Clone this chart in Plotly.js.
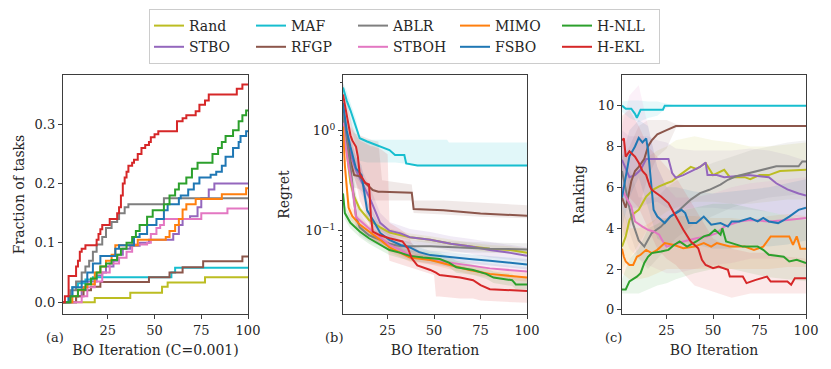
<!DOCTYPE html>
<html>
<head>
<meta charset="utf-8">
<script src="https://cdn.plot.ly/plotly-3.0.1.min.js"></script>
<style>
  html, body { margin: 0; padding: 0; background: #fff; }
  #chart { width: 831px; height: 369px; }
</style>
</head>
<body>
<div id="chart"></div>
<script>
// methods, in plotting order (legend columns pair them up)
const methods = ['Rand', 'STBO', 'MAF', 'RFGP', 'ABLR', 'STBOH', 'MIMO', 'FSBO', 'H-NLL', 'H-EKL'];
const colors = ['#bcbd22', '#9467bd', '#17becf', '#8c564b', '#7f7f7f', '#e377c2', '#ff7f0e', '#1f77b4', '#2ca02c', '#d62728'];
const legendCols = ['c1', 'c1', 'c2', 'c2', 'c3', 'c3', 'c4', 'c4', 'c5', 'c5'];

// (a) fraction of tasks solved, step curves
const fracX = {
  'Rand': [1, 18, 37, 54, 57, 77, 100],
  'STBO': [1, 8, 11, 14, 19, 22, 24, 28, 30, 33, 37, 42, 47, 60, 63, 65, 69, 73, 75, 79, 82, 100],
  'MAF': [1, 4, 6, 9, 13, 17, 59, 61, 100],
  'RFGP': [1, 8, 12, 16, 21, 47, 58, 65, 76, 97, 100],
  'ABLR': [1, 5, 8, 11, 13, 15, 17, 19, 22, 24, 27, 30, 31, 34, 36, 55, 100],
  'STBOH': [1, 11, 14, 18, 22, 26, 31, 35, 38, 46, 48, 51, 53, 55, 75, 89, 100],
  'MIMO': [1, 6, 9, 12, 14, 18, 21, 24, 27, 29, 41, 56, 58, 61, 63, 65, 67, 72, 86, 99, 100],
  'FSBO': [1, 4, 6, 11, 14, 17, 21, 29, 31, 39, 42, 46, 51, 55, 57, 63, 64, 68, 71, 74, 80, 83, 86, 88, 92, 95, 96, 99, 100],
  'H-NLL': [1, 5, 9, 13, 16, 19, 21, 24, 27, 30, 32, 35, 38, 40, 42, 46, 49, 55, 58, 61, 63, 67, 70, 73, 81, 84, 86, 88, 92, 95, 97, 99, 100],
  'H-EKL': [1, 2, 4, 8, 9, 10, 11, 13, 19, 20, 21, 22, 26, 30, 31, 32, 33, 34, 35, 36, 38, 39, 41, 43, 45, 47, 48, 50, 52, 62, 65, 67, 72, 74, 77, 79, 94, 97, 100]
};
const fracY = {
  'Rand': [0, 0.007, 0.016, 0.026, 0.033, 0.042, 0.042],
  'STBO': [0, 0.01, 0.025, 0.035, 0.045, 0.05, 0.06, 0.07, 0.08, 0.09, 0.095, 0.1, 0.105, 0.115, 0.13, 0.14, 0.145, 0.16, 0.175, 0.19, 0.2, 0.2],
  'MAF': [0, 0.01, 0.025, 0.032, 0.038, 0.042, 0.05, 0.058, 0.058],
  'RFGP': [0, 0.01, 0.02, 0.026, 0.034, 0.042, 0.05, 0.059, 0.069, 0.077, 0.077],
  'ABLR': [0, 0.02, 0.035, 0.05, 0.06, 0.07, 0.085, 0.097, 0.11, 0.125, 0.135, 0.14, 0.15, 0.16, 0.165, 0.175, 0.175],
  'STBOH': [0, 0.01, 0.025, 0.035, 0.05, 0.065, 0.075, 0.085, 0.097, 0.1, 0.115, 0.125, 0.13, 0.14, 0.15, 0.158, 0.158],
  'MIMO': [0, 0.01, 0.02, 0.025, 0.03, 0.05, 0.06, 0.07, 0.08, 0.096, 0.105, 0.11, 0.12, 0.13, 0.14, 0.156, 0.165, 0.174, 0.182, 0.192, 0.192],
  'FSBO': [0, 0.01, 0.025, 0.035, 0.05, 0.065, 0.078, 0.09, 0.096, 0.11, 0.115, 0.13, 0.14, 0.155, 0.165, 0.175, 0.18, 0.19, 0.2, 0.21, 0.215, 0.22, 0.23, 0.245, 0.26, 0.27, 0.28, 0.288, 0.288],
  'H-NLL': [0, 0.01, 0.021, 0.03, 0.04, 0.05, 0.06, 0.065, 0.071, 0.08, 0.09, 0.1, 0.11, 0.12, 0.13, 0.144, 0.155, 0.165, 0.18, 0.19, 0.2, 0.21, 0.225, 0.235, 0.25, 0.26, 0.27, 0.28, 0.29, 0.305, 0.315, 0.323, 0.323],
  'H-EKL': [0, 0.01, 0.044, 0.06, 0.07, 0.085, 0.09, 0.096, 0.105, 0.115, 0.123, 0.13, 0.14, 0.15, 0.16, 0.18, 0.2, 0.21, 0.22, 0.23, 0.235, 0.24, 0.25, 0.26, 0.265, 0.27, 0.278, 0.283, 0.288, 0.305, 0.31, 0.315, 0.322, 0.333, 0.34, 0.35, 0.36, 0.367, 0.367]
};

// (b) regret, mean with lower / upper band
const regX = {
  'Rand': [1, 3, 5, 7, 10, 15, 21, 26, 37, 48, 59, 69, 80, 91, 100],
  'STBO': [1, 3, 5, 8, 12, 16, 21, 26, 32, 37, 48, 59, 69, 80, 91, 100],
  'MAF': [1, 3, 5, 8, 10, 14, 21, 26, 29, 34, 35, 41, 57, 58, 100],
  'RFGP': [1, 3, 5, 7, 10, 13, 17, 20, 22, 38, 39, 55, 75, 100],
  'ABLR': [1, 3, 5, 7, 8, 10, 15, 21, 26, 32, 48, 80, 100],
  'STBOH': [1, 2, 4, 6, 8, 15, 21, 26, 32, 37, 48, 59, 69, 80, 91, 100],
  'MIMO': [1, 2, 4, 6, 10, 16, 21, 26, 32, 37, 48, 59, 69, 80, 91, 100],
  'FSBO': [1, 3, 5, 8, 11, 14, 18, 21, 26, 32, 37, 42, 48, 59, 69, 80, 91, 100],
  'H-NLL': [1, 2, 5, 10, 15, 21, 26, 32, 37, 44, 53, 58, 62, 71, 78, 82, 92, 94, 100],
  'H-EKL': [1, 3, 5, 6, 8, 9, 10, 13, 15, 16, 17, 21, 25, 26, 33, 36, 38, 41, 48, 50, 51, 53, 64, 71, 75, 80, 100]
};
const regY = {
  'Rand': [1.3, 0.6, 0.3, 0.22, 0.165, 0.128, 0.108, 0.096, 0.086, 0.081, 0.074, 0.07, 0.066, 0.064, 0.06],
  'STBO': [1.4, 0.9, 0.59, 0.4, 0.28, 0.2, 0.12, 0.1, 0.094, 0.086, 0.081, 0.074, 0.07, 0.064, 0.06, 0.056],
  'MAF': [2.7, 2.0, 1.6, 1.1, 0.84, 0.78, 0.69, 0.64, 0.57, 0.57, 0.47, 0.45, 0.45, 0.45, 0.45],
  'RFGP': [1.6, 0.9, 0.5, 0.36, 0.35, 0.3, 0.255, 0.245, 0.245, 0.24, 0.165, 0.16, 0.149, 0.141],
  'ABLR': [1.5, 0.8, 0.44, 0.2, 0.14, 0.108, 0.09, 0.081, 0.074, 0.07, 0.07, 0.066, 0.065],
  'STBOH': [1.2, 0.8, 0.44, 0.28, 0.137, 0.105, 0.086, 0.072, 0.064, 0.057, 0.051, 0.048, 0.045, 0.042, 0.0405, 0.039],
  'MIMO': [1.1, 0.45, 0.17, 0.14, 0.115, 0.096, 0.081, 0.068, 0.06, 0.054, 0.051, 0.045, 0.0405, 0.037, 0.035, 0.034],
  'FSBO': [1.9, 1.0, 0.69, 0.42, 0.36, 0.16, 0.12, 0.095, 0.081, 0.072, 0.068, 0.061, 0.057, 0.054, 0.052, 0.05, 0.048, 0.046],
  'H-NLL': [0.236, 0.15, 0.12, 0.098, 0.084, 0.072, 0.064, 0.06, 0.056, 0.054, 0.052, 0.048, 0.043, 0.0405, 0.037, 0.034, 0.032, 0.029, 0.029],
  'H-EKL': [2.3, 1.38, 0.9, 0.8, 0.69, 0.55, 0.37, 0.3, 0.29, 0.14, 0.098, 0.09, 0.085, 0.084, 0.078, 0.066, 0.053, 0.045, 0.0405, 0.039, 0.038, 0.036, 0.034, 0.032, 0.0286, 0.026, 0.025]
};
const regLo = {
  'Rand': [1.0, 0.5, 0.26, 0.19, 0.15, 0.118, 0.1, 0.089, 0.08, 0.075, 0.069, 0.065, 0.061, 0.059, 0.056],
  'STBO': [1.1, 0.7, 0.45, 0.3, 0.21, 0.15, 0.1, 0.085, 0.08, 0.074, 0.069, 0.063, 0.059, 0.054, 0.051, 0.049],
  'MAF': [2.3, 1.6, 1.2, 0.7, 0.5, 0.48, 0.48, 0.48, 0.48, 0.47, 0.46, 0.44, 0.44, 0.44, 0.44],
  'RFGP': [1.2, 0.6, 0.35, 0.27, 0.26, 0.23, 0.2, 0.2, 0.2, 0.2, 0.15, 0.145, 0.138, 0.133],
  'ABLR': [1.2, 0.6, 0.3, 0.15, 0.11, 0.09, 0.078, 0.07, 0.064, 0.061, 0.061, 0.06, 0.06],
  'STBOH': [1.0, 0.6, 0.33, 0.2, 0.11, 0.09, 0.075, 0.064, 0.057, 0.051, 0.046, 0.043, 0.041, 0.038, 0.037, 0.035],
  'MIMO': [0.9, 0.35, 0.14, 0.12, 0.1, 0.085, 0.072, 0.061, 0.054, 0.049, 0.046, 0.041, 0.037, 0.034, 0.032, 0.031],
  'FSBO': [1.5, 0.8, 0.55, 0.34, 0.29, 0.13, 0.1, 0.083, 0.072, 0.064, 0.061, 0.055, 0.051, 0.049, 0.047, 0.045, 0.043, 0.041],
  'H-NLL': [0.2, 0.13, 0.105, 0.086, 0.074, 0.064, 0.057, 0.053, 0.05, 0.048, 0.046, 0.043, 0.038, 0.036, 0.033, 0.03, 0.028, 0.026, 0.026],
  'H-EKL': [1.6, 0.9, 0.5, 0.4, 0.3, 0.25, 0.2, 0.15, 0.12, 0.09, 0.08, 0.075, 0.07, 0.05, 0.045, 0.043, 0.042, 0.04, 0.037, 0.036, 0.022, 0.022, 0.021, 0.021, 0.02, 0.02, 0.019]
};
const regHi = {
  'Rand': [1.6, 0.75, 0.36, 0.26, 0.18, 0.14, 0.118, 0.105, 0.094, 0.088, 0.081, 0.076, 0.072, 0.07, 0.066],
  'STBO': [1.8, 1.2, 0.8, 0.55, 0.38, 0.26, 0.15, 0.122, 0.112, 0.104, 0.097, 0.088, 0.083, 0.077, 0.072, 0.068],
  'MAF': [3.0, 2.5, 1.9, 1.3, 0.85, 0.81, 0.81, 0.81, 0.81, 0.81, 0.81, 0.81, 0.81, 0.76, 0.76],
  'RFGP': [2.2, 1.4, 1.1, 0.95, 0.9, 0.85, 0.8, 0.78, 0.32, 0.29, 0.2, 0.2, 0.19, 0.18],
  'ABLR': [1.9, 1.1, 0.7, 0.35, 0.22, 0.15, 0.11, 0.095, 0.085, 0.08, 0.08, 0.076, 0.075],
  'STBOH': [1.5, 1.0, 0.6, 0.4, 0.18, 0.125, 0.1, 0.082, 0.072, 0.064, 0.057, 0.053, 0.05, 0.047, 0.045, 0.043],
  'MIMO': [1.4, 0.6, 0.21, 0.17, 0.135, 0.11, 0.092, 0.077, 0.067, 0.06, 0.056, 0.05, 0.045, 0.041, 0.039, 0.038],
  'FSBO': [2.4, 1.3, 0.9, 0.55, 0.45, 0.2, 0.145, 0.11, 0.092, 0.081, 0.076, 0.068, 0.063, 0.06, 0.058, 0.056, 0.054, 0.052],
  'H-NLL': [0.28, 0.18, 0.14, 0.112, 0.096, 0.082, 0.073, 0.068, 0.064, 0.062, 0.06, 0.055, 0.05, 0.046, 0.042, 0.039, 0.037, 0.034, 0.034],
  'H-EKL': [3.0, 2.0, 1.3, 1.1, 0.9, 0.85, 0.8, 0.75, 0.72, 0.7, 0.7, 0.66, 0.58, 0.12, 0.1, 0.09, 0.075, 0.065, 0.055, 0.054, 0.053, 0.05, 0.045, 0.042, 0.04, 0.037, 0.035]
};

// (c) average ranking, mean line plus band on a coarse grid
const rankX = {
  'Rand': [1, 3, 5, 7, 10, 12, 14, 18, 21, 25, 28, 32, 35, 38, 41, 43, 46, 50, 56, 59, 67, 70, 75, 80, 86, 100],
  'STBO': [1, 3, 5, 8, 11, 14, 26, 28, 30, 34, 40, 43, 46, 47, 52, 56, 69, 75, 80, 84, 87, 90, 96, 100],
  'MAF': [1, 3, 6, 8, 9, 10, 11, 23, 24, 100],
  'RFGP': [1, 3, 4, 6, 8, 10, 13, 15, 17, 20, 25, 30, 100],
  'ABLR': [1, 3, 5, 7, 10, 13, 17, 22, 27, 32, 38, 43, 48, 54, 58, 62, 76, 84, 96, 98, 100],
  'STBOH': [1, 2, 6, 8, 12, 15, 18, 21, 23, 25, 34, 41, 47, 52, 56, 64, 70, 80, 90, 100],
  'MIMO': [1, 2, 3, 5, 7, 9, 11, 14, 17, 20, 24, 29, 34, 40, 45, 49, 52, 59, 67, 72, 77, 81, 91, 93, 95, 97, 100],
  'FSBO': [1, 3, 5, 8, 10, 12, 14, 15, 16, 17, 18, 20, 24, 27, 30, 33, 35, 37, 41, 45, 49, 54, 58, 60, 64, 70, 74, 77, 80, 85, 88, 91, 96, 100],
  'H-NLL': [1, 3, 5, 9, 11, 13, 15, 17, 22, 26, 29, 32, 36, 41, 45, 48, 51, 54, 55, 57, 60, 66, 74, 77, 80, 88, 91, 95, 100],
  'H-EKL': [1, 2, 3, 5, 8, 10, 12, 14, 16, 17, 22, 26, 28, 30, 34, 38, 42, 44, 46, 50, 53, 58, 59, 66, 68, 73, 79, 81, 90, 92, 94, 100]
};
const rankY = {
  'Rand': [3.1, 3.6, 4.4, 4.7, 4.9, 5.2, 5.55, 5.9, 6.05, 6.2, 6.3, 6.6, 6.8, 7.0, 6.9, 7.0, 7.19, 6.6, 6.86, 6.5, 6.5, 6.4, 6.6, 6.6, 6.8, 6.86],
  'STBO': [7.35, 6.9, 6.5, 6.6, 6.86, 7.39, 7.39, 6.7, 6.47, 6.6, 6.86, 7.0, 7.22, 6.6, 6.6, 6.5, 6.6, 6.55, 6.5, 6.2, 6.05, 5.9, 5.7, 5.6],
  'MAF': [10, 9.85, 9.85, 9.6, 9.4, 9.6, 9.8, 9.8, 10, 10],
  'RFGP': [5.5, 5.0, 5.4, 6.3, 6.8, 7.0, 7.4, 8.0, 8.3, 8.6, 8.8, 9.0, 9.0],
  'ABLR': [6.8, 5.8, 5.0, 4.2, 3.4, 3.1, 3.76, 4.08, 4.57, 4.9, 5.4, 5.72, 5.88, 6.13, 6.37, 6.53, 6.86, 7.03, 7.03, 7.27, 7.27],
  'STBOH': [6.0, 5.72, 5.06, 4.33, 4.08, 3.92, 3.84, 3.68, 3.35, 3.1, 3.35, 3.51, 3.6, 3.76, 4.08, 4.33, 4.4, 4.33, 4.4, 4.5],
  'MIMO': [3.0, 2.6, 2.37, 2.2, 2.2, 2.6, 2.7, 2.94, 2.78, 2.94, 3.27, 3.18, 3.02, 3.1, 3.27, 3.1, 3.27, 3.1, 3.1, 2.94, 3.1, 3.6, 3.6, 3.18, 3.6, 3.0, 3.0],
  'FSBO': [5.5, 6.5, 7.52, 8.0, 8.42, 8.2, 8.4, 7.84, 6.86, 5.72, 4.9, 4.57, 4.25, 4.57, 4.74, 4.9, 4.74, 4.25, 4.25, 4.57, 4.17, 4.25, 4.08, 4.33, 4.33, 4.5, 4.33, 4.5, 4.33, 4.25, 4.4, 4.57, 4.9, 5.0],
  'H-NLL': [1.0, 1.0, 1.4, 1.63, 1.8, 2.3, 2.6, 2.78, 2.86, 2.94, 3.18, 3.35, 3.1, 3.35, 3.6, 3.68, 3.92, 3.68, 4.0, 3.35, 3.27, 3.1, 3.1, 2.94, 2.7, 2.6, 2.37, 2.45, 2.29],
  'H-EKL': [8.3, 8.4, 7.5, 7.76, 7.5, 7.2, 6.8, 6.6, 6.05, 5.88, 5.55, 5.23, 4.9, 4.57, 3.92, 3.35, 3.02, 2.45, 2.2, 2.04, 2.12, 1.96, 1.63, 1.63, 1.31, 1.47, 1.63, 1.39, 1.39, 1.23, 1.55, 1.55]
};
const rankBandX = [1, 5, 10, 15, 20, 25, 30, 40, 50, 60, 70, 80, 90, 100];
const rankLo = {
  'Rand': [2.0, 2.5, 3.2, 4.0, 4.5, 4.8, 5.0, 5.3, 5.3, 5.2, 5.2, 5.3, 5.4, 5.4],
  'STBO': [5.5, 5.0, 5.0, 5.2, 5.3, 5.0, 4.9, 5.0, 5.0, 4.9, 4.9, 4.8, 4.6, 4.5],
  'MAF': [9.7, 9.4, 9.2, 9.4, 9.5, 9.9, 10, 10, 10, 10, 10, 10, 10, 10],
  'RFGP': [3.5, 4.0, 5.0, 6.5, 7.5, 7.9, 8.9, 9, 9, 9, 9, 9, 9, 9],
  'ABLR': [5.0, 3.8, 2.5, 2.0, 2.5, 3.0, 3.5, 4.2, 4.6, 5.0, 5.3, 5.5, 5.6, 5.7],
  'STBOH': [4.0, 3.0, 2.5, 2.2, 2.0, 1.8, 1.8, 2.0, 2.2, 2.3, 2.5, 2.5, 2.5, 2.5],
  'MIMO': [1.8, 1.5, 1.5, 1.6, 1.8, 2.0, 2.0, 2.0, 2.0, 2.0, 2.0, 2.0, 2.1, 2.1],
  'FSBO': [4.0, 5.5, 6.5, 5.0, 3.5, 3.2, 3.3, 3.2, 3.0, 3.0, 3.2, 3.1, 3.2, 3.4],
  'H-NLL': [0.8, 0.8, 0.8, 1.0, 1.2, 1.3, 1.5, 1.8, 2.0, 2.0, 1.8, 1.6, 1.5, 1.4],
  'H-EKL': [6.5, 5.5, 5.0, 4.0, 3.0, 2.5, 2.2, 1.2, 0.9, 0.6, 0.8, 0.8, 0.8, 0.8]
};
const rankHi = {
  'Rand': [5.0, 6.5, 7.0, 7.5, 7.8, 8.0, 8.3, 8.5, 8.3, 8.2, 8.0, 8.0, 8.1, 8.2],
  'STBO': [8.8, 8.5, 8.5, 8.5, 8.3, 8.2, 7.9, 7.8, 7.8, 7.8, 7.9, 7.8, 7.6, 7.3],
  'MAF': [10.2, 10.25, 10.25, 10.2, 10.2, 10.1, 10, 10, 10, 10, 10, 10, 10, 10],
  'RFGP': [7.5, 8.0, 9.0, 9.3, 9.3, 9.3, 9.1, 9, 9, 9, 9, 9, 9, 9],
  'ABLR': [8.5, 7.0, 5.5, 5.5, 5.5, 6.0, 6.3, 6.8, 7.2, 7.5, 7.8, 8.0, 8.2, 8.3],
  'STBOH': [9.0, 10.5, 11.0, 9.0, 7.0, 6.0, 5.5, 5.5, 5.7, 6.0, 6.2, 6.3, 6.4, 6.5],
  'MIMO': [5.0, 4.0, 4.0, 4.2, 4.5, 4.5, 4.6, 4.6, 4.5, 4.5, 4.4, 4.6, 4.7, 4.6],
  'FSBO': [7.5, 8.8, 9.3, 9.0, 7.0, 6.0, 6.0, 5.8, 5.7, 5.8, 5.9, 6.0, 6.2, 6.4],
  'H-NLL': [1.5, 2.5, 3.0, 4.0, 4.2, 4.5, 4.8, 5.0, 5.2, 5.2, 5.0, 4.8, 4.6, 4.4],
  'H-EKL': [9.5, 9.8, 9.0, 8.0, 7.5, 7.0, 6.5, 5.0, 3.5, 3.0, 2.8, 2.8, 2.6, 2.5]
};

const FONT = 'DejaVu Serif, Liberation Serif, serif';
const INK = '#262626';
const SPINE = '#3d3d3d';

function rgba(hex, a) {
  const n = parseInt(hex.slice(1), 16);
  return `rgba(${(n >> 16) & 255},${(n >> 8) & 255},${n & 255},${a})`;
}

function band(xs, lo, hi, color, xa, ya, alpha) {
  return {
    x: xs.concat(xs.slice().reverse()),
    y: hi.concat(lo.slice().reverse()),
    xaxis: xa, yaxis: ya,
    type: 'scatter', mode: 'lines', fill: 'toself',
    fillcolor: rgba(color, alpha),
    line: { width: 0, color: rgba(color, 0) },
    hoverinfo: 'skip', showlegend: false
  };
}

const traces = [];

methods.forEach((m, i) => {
  traces.push({
    x: fracX[m], y: fracY[m], xaxis: 'x', yaxis: 'y',
    type: 'scatter', mode: 'lines', name: m,
    line: { color: colors[i], width: 2, shape: 'hv' },
    legendgroup: legendCols[i], showlegend: true
  });
});

methods.forEach((m, i) => {
  traces.push(band(regX[m], regLo[m], regHi[m], colors[i], 'x2', 'y2', 0.13));
});
methods.forEach((m, i) => {
  traces.push({
    x: regX[m], y: regY[m], xaxis: 'x2', yaxis: 'y2',
    type: 'scatter', mode: 'lines', name: m,
    line: { color: colors[i], width: 2 }, showlegend: false
  });
});

methods.forEach((m, i) => {
  traces.push(band(rankBandX, rankLo[m], rankHi[m], colors[i], 'x3', 'y3', 0.1));
});
methods.forEach((m, i) => {
  traces.push({
    x: rankX[m], y: rankY[m], xaxis: 'x3', yaxis: 'y3',
    type: 'scatter', mode: 'lines', name: m,
    line: { color: colors[i], width: 2 }, showlegend: false
  });
});

const W = 831, H = 369;
const yDom = [1 - 314 / H, 1 - 75 / H];

function xAxis(left, right, title, standoff) {
  return {
    domain: [left / W, right / W], range: [1, 100],
    tickvals: [25, 50, 75, 100],
    ticks: 'outside', ticklen: 4, tickwidth: 1, tickcolor: SPINE,
    showline: true, mirror: true, linecolor: SPINE, linewidth: 1.2,
    showgrid: false, zeroline: false,
    tickfont: { family: FONT, size: 13, color: INK },
    title: { text: title, standoff: standoff, font: { family: FONT, size: 14, color: INK } }
  };
}

function yAxis(extra, title, standoff) {
  return Object.assign({
    domain: yDom,
    ticks: 'outside', ticklen: 4, tickwidth: 1, tickcolor: SPINE,
    showline: true, mirror: true, linecolor: SPINE, linewidth: 1.2,
    showgrid: false, zeroline: false,
    tickfont: { family: FONT, size: 13, color: INK },
    title: { text: title, standoff: standoff, font: { family: FONT, size: 14, color: INK } }
  }, extra);
}

const minorLog = [0.02, 0.03, 0.04, 0.05, 0.06, 0.07, 0.08, 0.09, 0.2, 0.3, 0.4, 0.5, 0.6, 0.7, 0.8, 0.9, 2, 3];

const panelLabels = [['(a)', 55], ['(b)', 334], ['(c)', 613]].map(([t, px]) => ({
  text: t, xref: 'paper', yref: 'paper', x: px / W, y: 1 - 337 / H,
  showarrow: false, xanchor: 'center', yanchor: 'middle',
  font: { family: FONT, size: 13, color: INK }
}));

const layout = {
  width: W, height: H,
  margin: { l: 0, r: 0, t: 0, b: 0 },
  paper_bgcolor: '#fff', plot_bgcolor: '#fff',
  font: { family: FONT, color: INK },
  showlegend: true,
  legend: {
    orientation: 'h', traceorder: 'grouped', tracegroupgap: 0,
    entrywidth: 57, entrywidthmode: 'pixels',
    x: 149 / W, y: 1 - 9 / H, xanchor: 'left', yanchor: 'top',
    bgcolor: '#fff', bordercolor: '#cccccc', borderwidth: 1,
    font: { family: FONT, size: 14, color: INK }
  },
  xaxis: xAxis(63, 248, 'BO Iteration (C=0.001)', 8),
  yaxis: yAxis({ range: [-0.02, 0.383], tickvals: [0, 0.1, 0.2, 0.3], ticktext: ['0.0', '0.1', '0.2', '0.3'] }, 'Fraction of tasks', 6),
  xaxis2: xAxis(343, 527, 'BO Iteration', 8),
  yaxis2: yAxis({
    anchor: 'x2', type: 'log', range: [-1.833, 0.557],
    tickvals: [0.1, 1], ticktext: ['10<sup>−1</sup>', '10<sup>0</sup>'],
    minor: { tickvals: minorLog, ticks: 'outside', ticklen: 2, tickcolor: SPINE }
  }, 'Regret', 12),
  xaxis3: xAxis(622, 806, 'BO Iteration', 8),
  yaxis3: yAxis({ anchor: 'x3', range: [-0.2, 11.5], tickvals: [0, 2, 4, 6, 8, 10] }, 'Ranking', 9),
  annotations: panelLabels,
  shapes: [{
    type: 'rect', xref: 'paper', yref: 'paper', layer: 'below',
    x0: 152 / W, x1: 651 / W, y0: 1 - 61 / H, y1: 1 - 12 / H,
    fillcolor: '#9a9a9a', line: { width: 0 }
  }]
};
layout.xaxis2.anchor = 'y2';
layout.xaxis3.anchor = 'y3';

Plotly.newPlot('chart', traces, layout, { staticPlot: true, displayModeBar: false });
</script>
</body>
</html>
